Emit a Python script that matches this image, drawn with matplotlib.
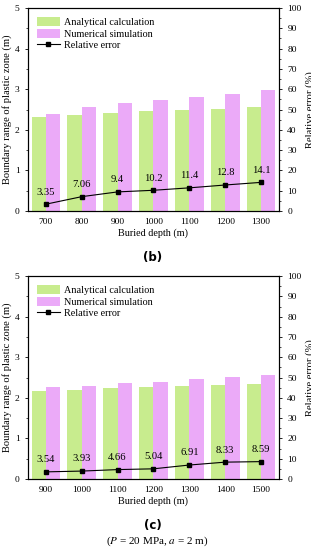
import matplotlib
matplotlib.use("Agg")
import matplotlib.pyplot as plt
import numpy as np
from matplotlib.ticker import MultipleLocator

plt.rcParams['font.family'] = ['Liberation Serif', 'DejaVu Serif']
plt.rcParams['mathtext.fontset'] = 'stix'

depth_b = [700, 800, 900, 1000, 1100, 1200, 1300]
analytical_b = [2.32, 2.37, 2.41, 2.46, 2.49, 2.52, 2.55]
numerical_b = [2.40, 2.55, 2.66, 2.74, 2.81, 2.89, 2.97]
error_b = [3.35, 7.06, 9.4, 10.2, 11.4, 12.8, 14.1]

depth_c = [900, 1000, 1100, 1200, 1300, 1400, 1500]
analytical_c = [2.18, 2.20, 2.25, 2.26, 2.29, 2.31, 2.34]
numerical_c = [2.26, 2.29, 2.36, 2.38, 2.46, 2.52, 2.56]
error_c = [3.54, 3.93, 4.66, 5.04, 6.91, 8.33, 8.59]

GREEN = '#C8EC8E'
PINK = '#EBAAF8'
FS = 7.3

fig = plt.figure(figsize=(3.11, 5.5), dpi=100)

def panel(rect, depth, ana, num, err):
    ax = fig.add_axes(rect)
    x = np.arange(len(depth))
    w = 0.4
    b1 = ax.bar(x - w/2, ana, w, color=GREEN, label='Analytical calculation')
    b2 = ax.bar(x + w/2, num, w, color=PINK, label='Numerical simulation')
    ax.set_xlim(-0.5, len(depth) - 0.5)
    ax.set_ylim(0, 5)
    ax.set_xticks(x)
    ax.set_xticklabels([str(d) for d in depth])
    ax.tick_params(axis='x', length=0, labelsize=6.8, pad=5)
    ax.tick_params(axis='y', labelsize=6.8, length=2.5, width=0.6, direction='out')
    ax.yaxis.set_minor_locator(MultipleLocator(0.5))
    ax.tick_params(axis='y', which='minor', length=1.5, width=0.5)
    ax.set_xlabel('Buried depth (m)', fontsize=FS, labelpad=2)
    ax.set_ylabel('Boundary range of plastic zone (m)', fontsize=7.6, labelpad=2)
    for s in ax.spines.values():
        s.set_linewidth(0.8)
    ax2 = ax.twinx()
    l, = ax2.plot(x, err, color='black', marker='s', markersize=3.3, linewidth=0.8,
                  label='Relative error')
    ax2.set_ylim(0, 100)
    ax2.yaxis.set_major_locator(MultipleLocator(10))
    ax2.yaxis.set_minor_locator(MultipleLocator(5))
    ax2.tick_params(axis='y', labelsize=6.8, length=2.5, width=0.6, direction='out')
    ax2.tick_params(axis='y', which='minor', length=1.5, width=0.5)
    ax2.set_ylabel('Relative error (%)', fontsize=7.6, labelpad=3)
    for s in ax2.spines.values():
        s.set_linewidth(0.8)
    for xi, e in zip(x, err):
        ax2.annotate(f'{e:g}', (xi, e), xytext=(0, 5.5), textcoords='offset points',
                     ha='center', va='bottom', fontsize=7.6)
    ax.legend([b1, b2, l], ['Analytical calculation', 'Numerical simulation', 'Relative error'],
              loc='upper left', frameon=False, fontsize=FS, handlelength=2.3,
              handleheight=1.0, labelspacing=0.15, handletextpad=0.4,
              bbox_to_anchor=(0.01, 0.985), borderaxespad=0.2)
    return ax

panel([0.090, 0.6164, 0.807, 0.369], depth_b, analytical_b, numerical_b, error_b)
panel([0.090, 0.129, 0.807, 0.369], depth_c, analytical_c, numerical_c, error_c)

fig.text(0.49, 1 - 257/550, '(b)', ha='center', va='center', fontsize=8.5,
         fontweight='bold', family=['DejaVu Sans'])
fig.text(0.49, 1 - 526/550, '(c)', ha='center', va='center', fontsize=8.5,
         fontweight='bold', family=['DejaVu Sans'])
fig.text(0.505, 1 - 541/550, r'($\mathit{P}$ = 20 MPa, $\mathit{a}$ = 2 m)', ha='center',
         va='center', fontsize=8)

fig.savefig('out.png', dpi=100)
